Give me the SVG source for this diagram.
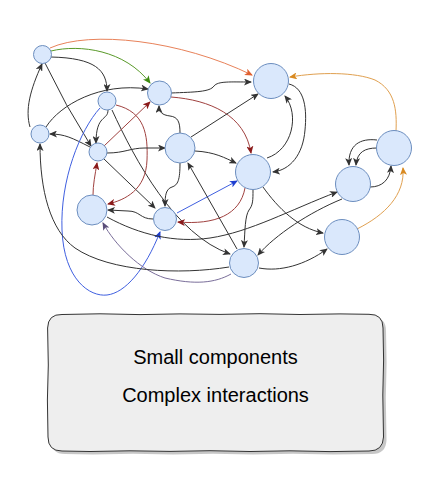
<svg xmlns="http://www.w3.org/2000/svg" width="440" height="500" viewBox="0 0 440 500">
<defs>
<style>
.n{fill:#dae8fc;stroke:#6c8ebf;stroke-width:1}
.e{fill:none;stroke-width:1}
.k{stroke:#333333;marker-end:url(#ak)}
.r{stroke:#a0413f;marker-end:url(#ar)}
.b{stroke:#3f5fe0;marker-end:url(#ab)}
.g{stroke:#5a9a2a;marker-end:url(#ag)}
.o{stroke:#e8825a;marker-end:url(#ao)}
.y{stroke:#e0a050;marker-end:url(#ay)}
.p{stroke:#7a6e9a;marker-end:url(#ap)}
.t{font-family:"Liberation Sans",Arial,sans-serif;font-size:20px;fill:#000;text-anchor:middle}
</style>
<marker id="ak" viewBox="0 0 8 7" refX="7" refY="3.5" markerWidth="8" markerHeight="7" markerUnits="userSpaceOnUse" orient="auto"><path d="M0,0 L8,3.5 L0,7 L2,3.5 Z" fill="#333333"/></marker>
<marker id="ar" viewBox="0 0 8 7" refX="7" refY="3.5" markerWidth="8" markerHeight="7" markerUnits="userSpaceOnUse" orient="auto"><path d="M0,0 L8,3.5 L0,7 L2,3.5 Z" fill="#8b1a1a"/></marker>
<marker id="ab" viewBox="0 0 8 7" refX="7" refY="3.5" markerWidth="8" markerHeight="7" markerUnits="userSpaceOnUse" orient="auto"><path d="M0,0 L8,3.5 L0,7 L2,3.5 Z" fill="#1f3fd0"/></marker>
<marker id="ag" viewBox="0 0 8 7" refX="7" refY="3.5" markerWidth="8" markerHeight="7" markerUnits="userSpaceOnUse" orient="auto"><path d="M0,0 L8,3.5 L0,7 L2,3.5 Z" fill="#3d8a10"/></marker>
<marker id="ao" viewBox="0 0 8 7" refX="7" refY="3.5" markerWidth="8" markerHeight="7" markerUnits="userSpaceOnUse" orient="auto"><path d="M0,0 L8,3.5 L0,7 L2,3.5 Z" fill="#e06030"/></marker>
<marker id="ay" viewBox="0 0 8 7" refX="7" refY="3.5" markerWidth="8" markerHeight="7" markerUnits="userSpaceOnUse" orient="auto"><path d="M0,0 L8,3.5 L0,7 L2,3.5 Z" fill="#d98a20"/></marker>
<marker id="ap" viewBox="0 0 8 7" refX="7" refY="3.5" markerWidth="8" markerHeight="7" markerUnits="userSpaceOnUse" orient="auto"><path d="M0,0 L8,3.5 L0,7 L2,3.5 Z" fill="#5a4e7a"/></marker>
</defs>
<rect width="440" height="500" fill="#ffffff"/>
<g id="connectors">
<path class="e o" d="M50,48 C90,30 180,40 252,75"/>
<path class="e g" d="M51,51 C80,44 125,50 150,83"/>
<path class="e k" d="M51,57 C95,58 107,70 107,91"/>
<path class="e k" d="M45,63 Q65,105 91,146"/>
<path class="e k" d="M30,127 C25,110 30,90 42,64"/>
<path class="e k" d="M46,127 C60,105 100,82 148,89"/>
<path class="e k" d="M90,147 C72,138 65,134 50,134"/>
<path class="e k" d="M108,110 C108,121 96,114 96,143"/>
<path class="e k" d="M112,110 C135,160 175,235 230,254"/>
<path class="e k" d="M104,159 L155,208"/>
<path class="e r" d="M104,146 L150,102"/>
<path class="e r" d="M116,105 C145,112 148,135 147,160 C146,190 125,200 108,204"/>
<path class="e r" d="M93,195 C93,185 95,175 97,163"/>
<path class="e k" d="M107,153 C125,153 130,148 145,148 L165,148"/>
<path class="e k" d="M171,93 C195,92 210,92 214,86 C218,81 230,82 251,82"/>
<path class="e r" d="M171,97 C210,100 245,115 251,153"/>
<path class="e k" d="M180,133 C180,122 178,117 170,116 C162,115 159,112 159,106"/>
<path class="e k" d="M191,137 L258,94"/>
<path class="e k" d="M267,158 C292,150 300,115 285,96"/>
<path class="e k" d="M289,84 C305,88 307,110 305,130 C303,155 290,170 273,172"/>
<path class="e k" d="M195,151 C215,152 225,158 236,163"/>
<path class="e k" d="M180,163 C180,180 178,185 172,187 C166,189 165,195 165,206"/>
<path class="e r" d="M245,188 C240,215 215,225 178,222"/>
<path class="e b" d="M177,213 L237,181"/>
<path class="e b" d="M100,108 C80,130 60,180 62,230 C64,280 90,297 107,295 C125,293 145,270 160,232"/>
<path class="e k" d="M153,219 C140,219 140,211 128,211 L108,210"/>
<path class="e p" d="M231,274 C215,283 195,285 165,278 C140,270 115,245 103,223"/>
<path class="e k" d="M107,217 C140,235 175,243 210,238 C250,232 290,210 337,192"/>
<path class="e k" d="M229,267 C180,275 110,272 75,248 C50,230 40,190 40,144"/>
<path class="e k" d="M259,268 C280,272 305,265 327,249"/>
<path class="e k" d="M253,190 C253,200 253,205 249,210 C245,216 245,230 244,247"/>
<path class="e k" d="M237,249 L188,163"/>
<path class="e k" d="M263,187 C278,208 298,228 323,233"/>
<path class="e k" d="M342,199 C310,212 275,235 258,255"/>
<path class="e y" d="M357,229 C385,215 405,195 403,168"/>
<path class="e y" d="M396,131 C397,110 395,90 375,80 C355,72 320,72 290,77"/>
<path class="e k" d="M377,140 C360,138 348,145 349,165"/>
<path class="e k" d="M377,148 C365,148 357,152 356,165"/>
<path class="e k" d="M370,187 C382,187 390,180 391,166"/>
</g>
<g id="n1"><circle class="n" cx="42.5" cy="54.5" r="9"/></g>
<g id="n2"><circle class="n" cx="107" cy="101" r="9"/></g>
<g id="n3"><circle class="n" cx="40" cy="134" r="9"/></g>
<g id="n4"><circle class="n" cx="98" cy="152" r="9"/></g>
<g id="n5"><circle class="n" cx="271" cy="81" r="17.5"/></g>
<g id="n6"><circle class="n" cx="159.5" cy="93" r="12"/></g>
<g id="n7"><circle class="n" cx="180" cy="148" r="15"/></g>
<g id="n8"><circle class="n" cx="253" cy="172" r="17.5"/></g>
<g id="n9"><circle class="n" cx="165" cy="219" r="11.5"/></g>
<g id="n10"><circle class="n" cx="244" cy="263" r="14.5"/></g>
<g id="n11"><circle class="n" cx="92" cy="210" r="15"/></g>
<g id="n12"><circle class="n" cx="353" cy="184" r="17.5"/></g>
<g id="n13"><circle class="n" cx="342" cy="237" r="17.5"/></g>
<g id="n14"><circle class="n" cx="394" cy="148" r="17.5"/></g>
<g id="note">
<path d="M65,317.5 L103,316.8 L143,317.6 L183,316.9 L223,317.4 L263,316.7 L303,317.5 L343,316.9 L372,317.3 Q386,317 386,331 L386.6,363 L385.8,398 L386.5,440 Q386,454 372,454 L333,454.6 L293,453.8 L253,454.5 L213,453.7 L173,454.4 L133,453.8 L93,454.5 L65,454 Q51,454 51,440 L50.4,403 L51.3,368 L50.6,331 Q51,317 65,317.5 Z" fill="#999999" opacity="0.55"/>
<path d="M62,314.5 L100,313.8 L140,314.6 L180,313.9 L220,314.4 L260,313.7 L300,314.5 L340,313.9 L369,314.3 Q383,314 383,328 L383.6,360 L382.8,395 L383.5,437 Q383,451 369,451 L330,451.6 L290,450.8 L250,451.5 L210,450.7 L170,451.4 L130,450.8 L90,451.5 L62,451 Q48,451 48,437 L47.4,400 L48.3,365 L47.6,328 Q48,314 62,314.5 Z" fill="#eeeeee" stroke="#333333" stroke-width="1"/>
<text class="t" x="215.5" y="364">Small components</text>
<text class="t" x="215.5" y="402">Complex interactions</text>
</g>
</svg>
